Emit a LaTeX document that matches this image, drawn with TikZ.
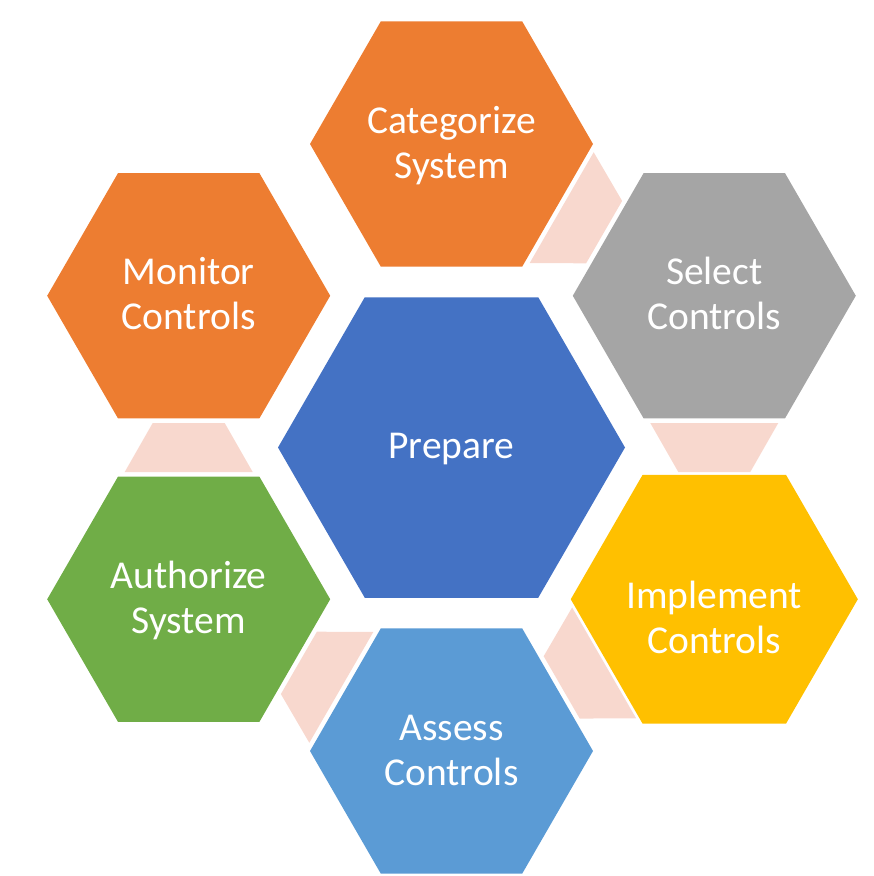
\documentclass[tikz,border=0pt]{standalone}
\usepackage{fontspec}
\setmainfont{Carlito}
\usetikzlibrary{shapes.geometric,calc}

\definecolor{hexblue}{HTML}{4472C4}
\definecolor{hexorange}{HTML}{ED7D31}
\definecolor{hexgray}{HTML}{A5A5A5}
\definecolor{hexgold}{HTML}{FFC000}
\definecolor{hexsky}{HTML}{5B9BD5}
\definecolor{hexgreen}{HTML}{70AD47}
\definecolor{linkpink}{HTML}{F8D8CE}

\tikzset{
  hexcell/.style={regular polygon, regular polygon sides=6, inner sep=0pt,
    outer sep=0pt, minimum size=283pt, fill=#1, text=white, align=center,
    font=\fontsize{39.5}{45}\selectfont},
  hexcore/.style={hexcell=#1, minimum size=347pt},
  linkfill/.style={fill=linkpink}
}

% struts give every label the same line box, so the text sits evenly;
% the optional argument is the height above the first baseline
\newcommand\uprule{\rule{0pt}{33pt}}
\newcommand\dnrule{\rule[-12pt]{0pt}{12pt}}
\newcommand\twolines[3][35pt]{\rule{0pt}{#1}#2\\#3\rule[-12pt]{0pt}{12pt}}

% trapezoid between two neighbouring cells, wide end at the first one
\newcommand\linkpiece[2]{%
  \coordinate (lm) at ($(#1)!0.5!(#2)$);
  \coordinate (ls) at ($(lm)!24.5pt!(#1)$);
  \coordinate (lt) at ($(lm)!24.5pt!(#2)$);
  \fill[linkfill] ($(ls)!64pt!90:(#1)$) -- ($(ls)!64pt!-90:(#1)$)
    -- ($(lt)!36pt!90:(#2)$) -- ($(lt)!36pt!-90:(#2)$) -- cycle;}

\begin{document}
\begin{tikzpicture}[x=1pt,y=-1pt]
  \useasboundingbox (0,0) rectangle (874,876);

  \coordinate (mid) at (451.5,447.5);

  \node[hexcore=hexblue] (prep) at (mid) {\uprule Prepare\dnrule};
  \node[hexcell=hexorange] (cat) at ($(mid)+(0,-303.5)$) {\twolines{Categorize}{System}};
  \node[hexcell=hexgray]   (sel) at ($(mid)+(262.8,-151.75)$) {\twolines{Select}{Controls}};
  \node[hexcell=hexgold]   (imp) at ($(mid)+(262.8,151.75)$) {\twolines[75pt]{Implement}{Controls}};
  \node[hexcell=hexsky]    (asm) at ($(mid)+(0,303.5)$) {\twolines{Assess}{Controls}};
  \node[hexcell=hexgreen]  (aut) at ($(mid)+(-262.8,151.75)$) {\twolines{Authorize}{System}};
  \node[hexcell=hexorange] (mon) at ($(mid)+(-262.8,-151.75)$) {\twolines{Monitor}{Controls}};

  \linkpiece{cat}{sel}
  \linkpiece{sel}{imp}
  \linkpiece{imp}{asm}
  \linkpiece{asm}{aut}
  \linkpiece{aut}{mon}
\end{tikzpicture}
\end{document}
